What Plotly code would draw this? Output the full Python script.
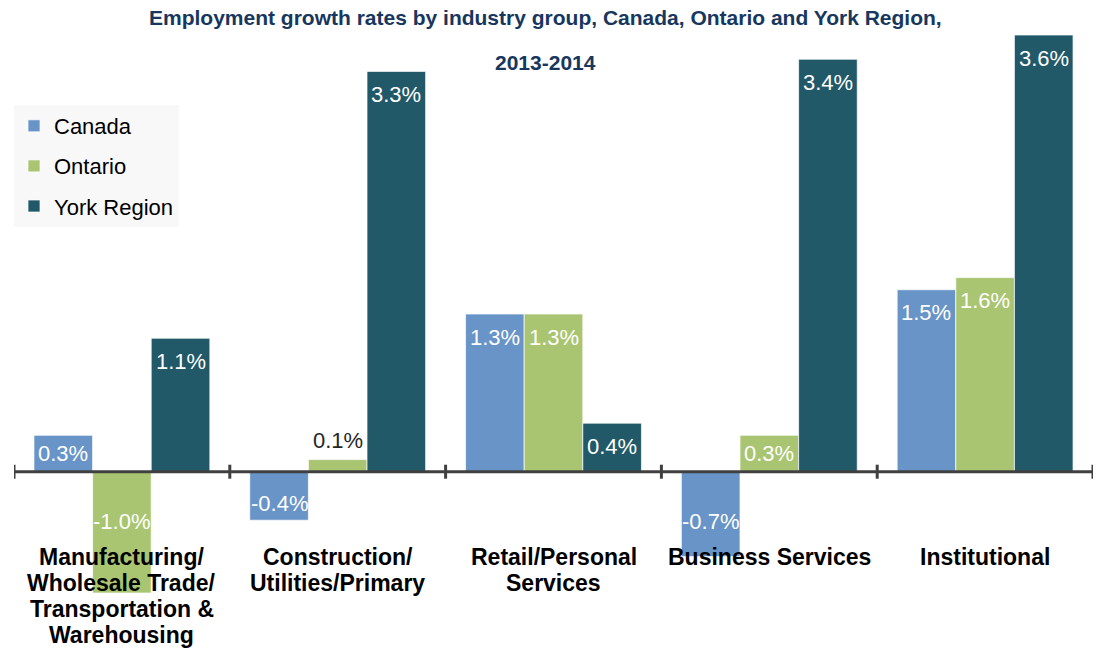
import plotly.graph_objects as go

# Industry groups (each entry split into its display lines)
categories = [
    ["Manufacturing/", "Wholesale Trade/", "Transportation &", "Warehousing"],
    ["Construction/", "Utilities/Primary"],
    ["Retail/Personal", "Services"],
    ["Business Services"],
    ["Institutional"],
]

# Employment growth rates, 2013-2014 (%)
canada = [0.3, -0.4, 1.3, -0.7, 1.5]
ontario = [-1.0, 0.1, 1.3, 0.3, 1.6]
york = [1.1, 3.3, 0.4, 3.4, 3.6]

series_names = ["Canada", "Ontario", "York Region"]
series_values = [canada, ontario, york]
series_colors = ["#6894C7", "#A9C571", "#215968"]

W, H = 1104, 649
M_L, M_R, M_T, M_B = 14, 11, 35, 56
Y_MIN, Y_MAX = -1.0, 3.6
BARGAP = 0.185

FONT = "Liberation Sans, Arial, sans-serif"
plot_h = H - M_T - M_B
ppu = plot_h / (Y_MAX - Y_MIN)          # pixels per percentage point
bar_w = (1 - BARGAP) / len(series_values)

x_pos = list(range(len(categories)))

fig = go.Figure()
for k, (name, vals, col) in enumerate(zip(series_names, series_values, series_colors)):
    fig.add_trace(go.Bar(
        x=x_pos, y=vals, name=name,
        marker=dict(color=col, line=dict(color="rgba(255,255,255,0.7)", width=1)),
        legendgroup=name,
        hoverinfo="name+y",
    ))

annotations = []

# Value labels
for k, vals in enumerate(series_values):
    for i, v in enumerate(vals):
        h = abs(v) * ppu
        x = i + (k - (len(series_values) - 1) / 2) * bar_w
        txt = f"{v:.1f}%"
        if v >= 0 and h < 24:
            annotations.append(dict(x=x, y=v, xref="x", yref="y", text=txt,
                                    showarrow=False, yanchor="middle", yshift=19,
                                    font=dict(family=FONT, size=22, color="#262626")))
        elif v >= 0:
            annotations.append(dict(x=x, y=v, xref="x", yref="y", text=txt,
                                    showarrow=False, yanchor="middle",
                                    yshift=-min(23, h / 2),
                                    font=dict(family=FONT, size=22, color="white")))
        else:
            annotations.append(dict(x=x, y=0, xref="x", yref="y", text=txt,
                                    showarrow=False, yanchor="middle",
                                    yshift=-min(h - 17, 50),
                                    font=dict(family=FONT, size=22, color="white")))

# Category labels below the zero axis
for i, lines in enumerate(categories):
    for j, line in enumerate(lines):
        annotations.append(dict(x=i, y=0, xref="x", yref="y", text=line,
                                showarrow=False, yanchor="middle",
                                yshift=-85 - 26 * j,
                                font=dict(family=FONT, size=23, color="#000000",
                                          weight="bold")))

# Two-line title
title_font = dict(family=FONT, size=21, color="#17375E", weight="bold")
annotations.append(dict(x=0.493, y=1, xref="paper", yref="paper", showarrow=False,
                        text="Employment growth rates by industry group, Canada, Ontario and York Region,",
                        yanchor="middle", yshift=M_T - 17, font=title_font))
annotations.append(dict(x=0.493, y=1, xref="paper", yref="paper", showarrow=False,
                        text="2013-2014", yanchor="middle", yshift=M_T - 62,
                        font=title_font))

# Zero axis with boundary tick marks
shapes = [dict(type="line", xref="x", yref="y", x0=-0.5, x1=len(categories) - 0.5,
               y0=0, y1=0, line=dict(color="#404040", width=3), layer="above")]
for b in range(len(categories) + 1):
    shapes.append(dict(type="line", xref="x", yref="y", ysizemode="pixel", yanchor=0,
                       x0=b - 0.5, x1=b - 0.5, y0=-7, y1=7,
                       line=dict(color="#404040", width=3), layer="above"))

fig.update_layout(
    width=W, height=H,
    margin=dict(l=M_L, r=M_R, t=M_T, b=M_B),
    paper_bgcolor="white", plot_bgcolor="white",
    barmode="group", bargap=BARGAP, bargroupgap=0,
    xaxis=dict(range=[-0.5, len(categories) - 0.5], showticklabels=False,
               showgrid=False, zeroline=False, showline=False, ticks=""),
    yaxis=dict(range=[Y_MIN, Y_MAX], showticklabels=False, showgrid=False,
               zeroline=False, showline=False, ticks=""),
    legend=dict(x=0.0, y=(Y_MAX - Y_MIN - (105 - M_T) / ppu) / (Y_MAX - Y_MIN),
                xanchor="left", yanchor="top", bgcolor="#F8F8F8",
                font=dict(family=FONT, size=22, color="#000000"),
                traceorder="grouped", tracegroupgap=8.5, itemwidth=30),
    annotations=annotations,
    shapes=shapes,
    showlegend=True,
)

fig.write_html("out.html")
